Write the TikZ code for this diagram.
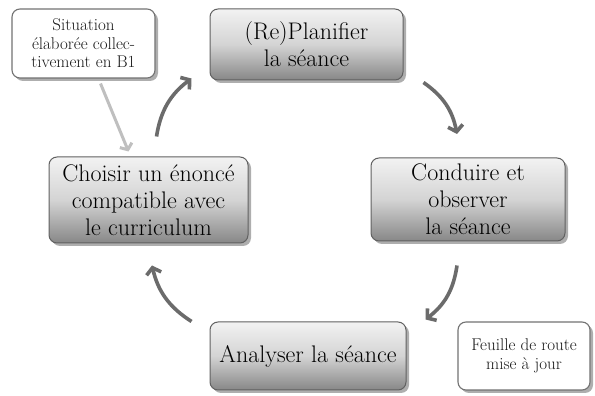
\documentclass[tikz,border=0pt]{standalone}
\usetikzlibrary{arrows.meta,shadows,calc}
\begin{document}
\begin{tikzpicture}[x=1pt,y=1pt,
  shade/.style={drop shadow={shadow xshift=3pt, shadow yshift=-3pt, fill=black!45, opacity=0.7}},
  mainbox/.style={shade, draw=black!62, line width=1pt, rounded corners=8pt,
    top color=black!5, bottom color=black!47, middle color=black!17,
    inner sep=0pt, align=center, text=black,
    font=\fontsize{24}{27}\selectfont},
  notebox/.style={shade, draw=black!55, line width=1.1pt, rounded corners=8pt,
    fill=white, inner sep=0pt, align=center, text=black!90,
    font=\fontsize{17}{18.5}\selectfont},
  cyc/.style={draw=black!58, line width=3.6pt,
    -{Straight Barb[length=6pt,width=15pt]}},
  feed/.style={draw=black!25, line width=3pt,
    -{Straight Barb[length=5pt,width=13pt]}}
]
\useasboundingbox (0,0) rectangle (595,396);
\fill[white] (0,0) rectangle (595,396);

\node[notebox, minimum width=143pt, minimum height=69pt] (sit) at (83.5,352.5)
  {Situation\\élaborée collec-\\tivement en B1};
\node[mainbox, minimum width=193pt, minimum height=71pt] (plan) at (306.5,351.5)
  {(Re)Planifier\\la séance};
\node[mainbox, minimum width=199pt, minimum height=86pt] (choi) at (148.5,196)
  {Choisir un énoncé\\compatible avec\\le curriculum};
\node[mainbox, minimum width=194pt, minimum height=83pt] (cond) at (468,196.5)
  {Conduire et\\observer\\la séance};
\node[mainbox, minimum width=196pt, minimum height=68pt] (anal) at (308,40)
  {Analyser la séance};
\node[notebox, minimum width=132pt, minimum height=68pt] (feui) at (524,40)
  {Feuille de route\\mise à jour};

\draw[feed] ($(sit.south)+(17,-5)$) -- ($(choi.north)+(-20,5)$);
\draw[cyc] ($(choi.north)+(8,20)$) to[bend left=22] ($(plan.south west)+(-18,2)$);
\draw[cyc] ($(plan.south east)+(20,-2)$) to[bend left=22] ($(cond.north)+(-11,23.5)$);
\draw[cyc] ($(cond.south)+(-11,-24)$) to[bend left=22] ($(anal.north east)+(19,2)$);
\draw[cyc] ($(anal.north west)+(-18,0)$) to[bend left=22] ($(choi.south)+(3.5,-22)$);
\end{tikzpicture}
\end{document}
